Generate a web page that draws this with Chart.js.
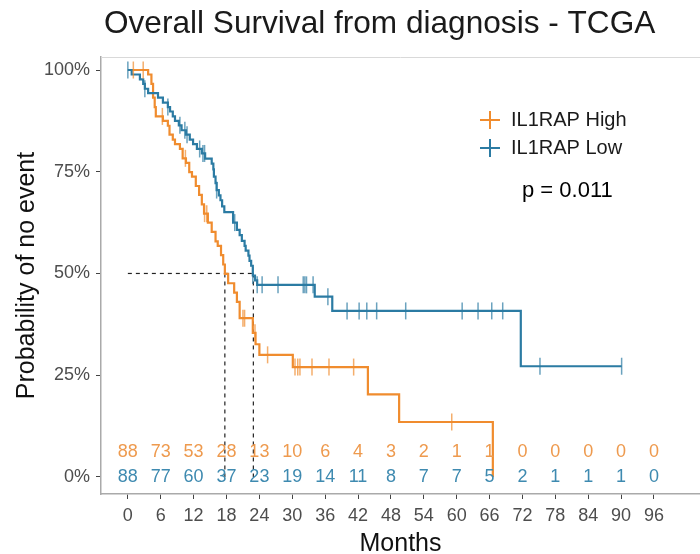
<!DOCTYPE html>
<html lang="en">
<head>
  <meta charset="UTF-8" />
  <title>Overall Survival from diagnosis - TCGA</title>
  <script src="https://cdn.jsdelivr.net/npm/chart.js"></script>
  <style>
    html, body { margin: 0; padding: 0; background: #fff; }
    #wrap { width: 700px; height: 554px; }
  </style>
</head>
<body>
  <div id="wrap"><canvas id="kmChart" width="700" height="554"></canvas></div>

  <script>
    // Kaplan-Meier steps (months, % surviving)
    const groups = ['IL1RAP High', 'IL1RAP Low'];
    const highTimes = [0, 3.7, 4.3, 4.6, 4.9, 5.1, 6.4, 7.3, 7.6, 8.2, 8.6, 9.5, 10.0, 10.6, 11.2, 11.7, 12.4, 13.0, 13.5, 13.9, 14.6, 15.3, 16.0, 16.4, 17.0, 17.4, 17.7, 18.3, 19.4, 19.9, 20.4, 22.8, 23.3, 24.0, 30.1, 43.8, 49.5, 66.6];
    const highSurv  = [100, 98.9, 96.6, 93.2, 90.9, 88.6, 87.5, 86.3, 84.1, 82.9, 81.8, 80.6, 78.3, 77.2, 74.9, 73.8, 71.5, 69.3, 67.0, 64.7, 62.5, 60.2, 57.9, 56.8, 54.5, 52.2, 49.9, 47.6, 45.3, 43.0, 39.0, 35.4, 32.6, 30.0, 27.0, 20.3, 13.5, 0];
    const lowTimes = [0, 0.7, 2.2, 2.8, 3.1, 3.7, 5.5, 6.4, 7.3, 7.7, 8.2, 8.6, 9.3, 9.8, 10.6, 11.3, 11.9, 12.6, 13.5, 14.1, 15.3, 15.6, 15.7, 16.0, 16.2, 16.6, 16.9, 17.2, 17.6, 19.2, 19.9, 20.4, 20.8, 21.3, 21.5, 22.0, 22.2, 22.5, 22.8, 23.2, 23.6, 34.1, 37.3, 71.7, 90.1];
    const lowSurv  = [100, 98.9, 97.7, 96.6, 95.4, 94.3, 93.2, 92.0, 90.9, 89.8, 88.6, 87.5, 86.4, 85.2, 84.1, 82.9, 81.8, 80.6, 79.5, 78.2, 77.0, 75.6, 73.8, 72.2, 70.5, 69.2, 68.0, 66.5, 65.1, 62.5, 60.7, 59.4, 58.0, 56.8, 55.6, 54.4, 53.1, 51.9, 49.5, 48.3, 47.2, 44.3, 40.8, 27.2, 27.2];
    const highCensor = [1.0, 2.8, 6.3, 10.5, 14.0, 14.4, 21.0, 21.3, 23.2, 25.5, 30.5, 31.0, 31.4, 33.6, 36.7, 41.2, 59.1];
    const lowCensor = [0, 3.1, 7.3, 9.5, 10.4, 10.8, 13.1, 13.7, 14.0, 16.2, 19.5, 22.8, 23.6, 24.5, 27.4, 32.0, 32.3, 32.6, 33.8, 36.5, 40.0, 42.2, 43.6, 45.4, 50.7, 61.0, 63.9, 66.4, 68.4, 75.2, 90.1];
    const medians = [17.7, 22.9];

    // numbers at risk
    const riskTimes = [0, 6, 12, 18, 24, 30, 36, 42, 48, 54, 60, 66, 72, 78, 84, 90, 96];
    const riskHigh = [88, 73, 53, 28, 13, 10, 6, 4, 3, 2, 1, 1, 0, 0, 0, 0, 0];
    const riskLow  = [88, 77, 60, 37, 23, 19, 14, 11, 8, 7, 7, 5, 2, 1, 1, 1, 0];
    const yTicks = [0, 25, 50, 75, 100];
    const pText = 'p = 0.011';

    const ORANGE = '#F08C2E';
    const BLUE = '#2B7BA3';
    const FONT = "'Liberation Sans', Arial, sans-serif";

    Chart.defaults.font.family = FONT;

    function toPoints(times, vals) {
      return times.map((t, i) => ({ x: t, y: vals[i] }));
    }

    // censor marks sit on the curve at their time
    function censorPoints(cens, times, vals) {
      return cens.map(t => {
        let v = vals[0];
        for (let i = 0; i < times.length; i++) {
          if (times[i] <= t) v = vals[i];
        }
        return { x: t, y: v };
      });
    }

    const kmExtras = {
      id: 'kmExtras',
      afterDraw(chart) {
        const ctx = chart.ctx;
        const area = chart.chartArea;
        const xs = chart.scales.x;
        const ys = chart.scales.y;
        ctx.save();

        // top panel edge
        ctx.strokeStyle = '#d9d9d9';
        ctx.lineWidth = 1;
        ctx.beginPath();
        ctx.moveTo(area.left, area.top + 0.5);
        ctx.lineTo(area.right, area.top + 0.5);
        ctx.stroke();

        // title
        ctx.fillStyle = '#1a1a1a';
        ctx.font = '31.6px ' + FONT;
        ctx.textAlign = 'left';
        ctx.textBaseline = 'middle';
        ctx.fillText('Overall Survival from diagnosis - TCGA', 104, 24);

        // legend
        const cols = [ORANGE, BLUE];
        groups.forEach((g, i) => {
          const cy = 120 + i * 28;
          ctx.strokeStyle = cols[i];
          ctx.lineWidth = 2;
          ctx.beginPath();
          ctx.moveTo(480, cy); ctx.lineTo(500, cy);
          ctx.moveTo(490, cy - 9); ctx.lineTo(490, cy + 9);
          ctx.stroke();
          ctx.fillStyle = '#1a1a1a';
          ctx.font = '20px ' + FONT;
          ctx.fillText(g, 511, cy);
        });

        // p value
        ctx.font = '22px ' + FONT;
        ctx.fillStyle = '#000';
        ctx.fillText(pText, 522, 191);

        // numbers at risk
        ctx.font = '18px ' + FONT;
        ctx.textAlign = 'center';
        const rows = [[riskHigh, '#EE9A4E', 6.2], [riskLow, '#3E8AB0', 0]];
        rows.forEach(([vals, col, yv]) => {
          ctx.fillStyle = col;
          vals.forEach((n, i) => {
            ctx.fillText(String(n), xs.getPixelForValue(riskTimes[i]), ys.getPixelForValue(yv));
          });
        });
        ctx.restore();
      }
    };

    const dashStyle = {
      type: 'line', borderColor: '#222', borderWidth: 1.2, borderDash: [4, 4],
      pointRadius: 0, fill: false, order: 5
    };

    new Chart(document.getElementById('kmChart').getContext('2d'), {
      type: 'line',
      data: {
        datasets: [
          { label: groups[1], data: toPoints(lowTimes, lowSurv), stepped: true,
            borderColor: BLUE, borderWidth: 2.2, pointRadius: 0, fill: false, order: 1 },
          { label: groups[0], data: toPoints(highTimes, highSurv), stepped: true,
            borderColor: ORANGE, borderWidth: 2.2, pointRadius: 0, fill: false, order: 2 },
          { label: 'Low censored', type: 'scatter', data: censorPoints(lowCensor, lowTimes, lowSurv),
            pointStyle: 'line', rotation: 90, pointRadius: 8.5, pointBorderWidth: 1.5,
            borderColor: 'rgba(43,123,163,0.7)', order: 0 },
          { label: 'High censored', type: 'scatter', data: censorPoints(highCensor, highTimes, highSurv),
            pointStyle: 'line', rotation: 90, pointRadius: 8.5, pointBorderWidth: 1.5,
            borderColor: 'rgba(240,140,46,0.7)', order: 0 },
          { ...dashStyle, label: 'median', data: [{ x: 0, y: 50 }, { x: medians[1], y: 50 }] },
          { ...dashStyle, label: 'median high', data: [{ x: medians[0], y: 50 }, { x: medians[0], y: 0 }] },
          { ...dashStyle, label: 'median low', data: [{ x: medians[1], y: 50 }, { x: medians[1], y: 0 }] }
        ]
      },
      options: {
        responsive: false,
        animation: false,
        layout: { autoPadding: false, padding: { top: 57, left: 0, right: 0, bottom: 0 } },
        plugins: {
          legend: { display: false },
          tooltip: { enabled: false },
          title: { display: false }
        },
        scales: {
          x: {
            type: 'linear',
            min: -4.9,
            max: 104.4,
            afterBuildTicks: s => { s.ticks = riskTimes.map(v => ({ value: v })); },
            afterFit: s => { s.height = 60; },
            ticks: { font: { size: 18 }, color: '#4d4d4d', padding: 6, autoSkip: false, maxRotation: 0 },
            grid: { drawOnChartArea: false, tickLength: 5, color: '#444' },
            border: { color: '#aaa', width: 1.5 },
            title: { display: true, text: 'Months', color: '#111', font: { size: 25, lineHeight: 0.8 }, padding: 0 }
          },
          y: {
            type: 'linear',
            min: -4.2,
            max: 103.2,
            afterBuildTicks: s => { s.ticks = yTicks.map(v => ({ value: v })); },
            afterFit: s => { s.width = 101; },
            ticks: { font: { size: 18 }, color: '#4d4d4d', padding: 6, callback: v => v + '%' },
            grid: { drawOnChartArea: false, tickLength: 5, color: '#444' },
            border: { color: '#aaa', width: 1.5 },
            title: { display: true, text: 'Probability of no event', color: '#111',
                     font: { size: 25, lineHeight: 1 }, padding: { top: 15, bottom: 0 } }
          }
        }
      },
      plugins: [kmExtras]
    });
  </script>
</body>
</html>
